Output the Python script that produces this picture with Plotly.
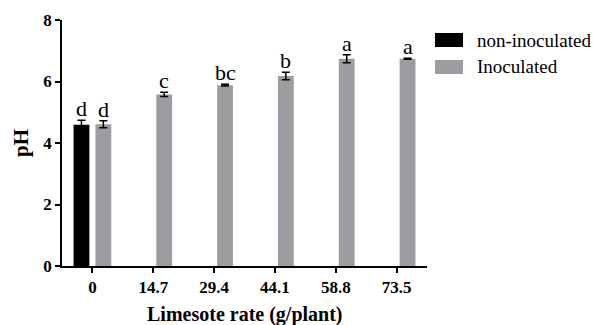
import plotly.graph_objects as go

categories = ["0", "14.7", "29.4", "44.1", "58.8", "73.5"]
non_inoc_cats = ["0"]
non_inoc_vals = [4.59]
non_inoc_err = [0.15]
non_inoc_letters = ["d"]
inoc_vals = [4.61, 5.58, 5.88, 6.18, 6.74, 6.74]
inoc_err = [0.11, 0.07, 0.03, 0.12, 0.13, 0.02]
inoc_letters = ["d", "c", "bc", "b", "a", "a"]
y_ticks = [0, 2, 4, 6, 8]
x_title = "Limesote rate (g/plant)"
y_title = "pH"

BLACK = "#000000"
GRAY = "#9d9da1"
FONT = "Liberation Serif, serif"

# page has an 8px body margin; plot box in page pixels
OFF = 8
PL, PT, PR, PB = 62, 20, 427, 266
W, H = 603 - OFF, 325 - OFF
PW, PH = PR - PL, PB - PT
L, T = PL - OFF, PT - OFF
R, B = W - (PR - OFF), H - (PB - OFF)


def px_x(x):
    return (x - PL) / PW


def px_y(y):
    return 1 - (y - PT) / PH


fig = go.Figure()
fig.add_trace(go.Bar(
    x=non_inoc_cats, y=non_inoc_vals, name="non-inoculated",
    marker=dict(color=BLACK, line=dict(width=0)),
    width=0.26, offset=-0.31,
    error_y=dict(type="data", array=non_inoc_err, color="black", thickness=1.5, width=4),
    showlegend=False,
))
fig.add_trace(go.Bar(
    x=categories, y=inoc_vals, name="Inoculated",
    marker=dict(color=GRAY, line=dict(width=0)),
    width=0.26, offset=0.05,
    error_y=dict(type="data", array=inoc_err, color="black", thickness=1.5, width=4),
    showlegend=False,
))

# significance letters
for c, v, e, t in zip(non_inoc_cats, non_inoc_vals, non_inoc_err, non_inoc_letters):
    fig.add_annotation(x=categories.index(c) - 0.18, y=v + e, text=t, showarrow=False,
                       yanchor="bottom", yshift=-3, font=dict(family=FONT, size=22, color="black"))
for c, v, e, t in zip(categories, inoc_vals, inoc_err, inoc_letters):
    fig.add_annotation(x=categories.index(c) + 0.18, y=v + e, text=t, showarrow=False,
                       yanchor="bottom", yshift=-3, font=dict(family=FONT, size=22, color="black"))

# legend (drawn manually to match box sizes)
legend_items = [("non-inoculated", BLACK), ("Inoculated", GRAY)]
for i, (name, col) in enumerate(legend_items):
    y0 = 33 + i * 27
    fig.add_shape(type="rect", xref="paper", yref="paper",
                  x0=px_x(435), x1=px_x(463), y0=px_y(y0 + 14), y1=px_y(y0),
                  fillcolor=col, line=dict(width=0))
    fig.add_annotation(xref="paper", yref="paper", x=px_x(475), y=px_y(y0 + 7),
                       text=name, showarrow=False, xanchor="left", yanchor="middle",
                       font=dict(family=FONT, size=19, color="black"))

# axis titles
fig.add_annotation(xref="paper", yref="paper", x=0.5, y=px_y(314), text="<b>" + x_title + "</b>",
                   showarrow=False, xanchor="center", yanchor="middle",
                   font=dict(family=FONT, size=20, color="black"))
fig.add_annotation(xref="paper", yref="paper", x=px_x(21), y=0.5, text="<b>" + y_title + "</b>",
                   showarrow=False, xanchor="center", yanchor="middle", textangle=-90,
                   font=dict(family=FONT, size=21, color="black"))

fig.update_layout(
    width=W, height=H,
    margin=dict(l=L, r=R, t=T, b=B, autoexpand=False),
    plot_bgcolor="white", paper_bgcolor="white",
    barmode="overlay",
    font=dict(family=FONT, color="black"),
)
fig.update_xaxes(
    type="category", categoryorder="array", categoryarray=categories,
    range=[-0.5, 5.5], showline=True, linecolor="black", linewidth=1.5,
    ticks="outside", ticklen=5, tickwidth=1.5, tickcolor="black",
    tickfont=dict(family=FONT, size=17, color="black", weight="bold"),
    showgrid=False, zeroline=False, automargin=False,
)
fig.update_yaxes(
    range=[0, 8], tickvals=y_ticks, showline=True, linecolor="black", linewidth=1.5,
    ticks="outside", ticklen=5, tickwidth=1.5, tickcolor="black",
    tickfont=dict(family=FONT, size=17, color="black", weight="bold"),
    showgrid=False, zeroline=False, automargin=False,
)

fig.write_html("out.html")
